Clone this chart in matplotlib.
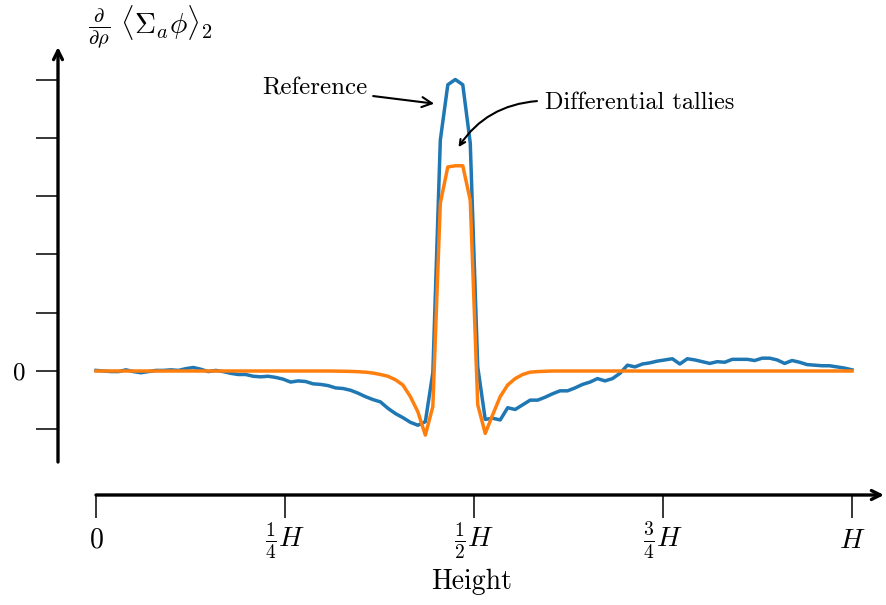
import numpy as np
import matplotlib
matplotlib.use("Agg")
import matplotlib.pyplot as plt

plt.rcParams['font.family'] = 'serif'
plt.rcParams['font.serif'] = ['cmr10']
plt.rcParams['mathtext.fontset'] = 'cm'
plt.rcParams['axes.formatter.use_mathtext'] = True

# 102 points along the height, 0 .. H
height = np.linspace(0, 1, 102)

reference = [
    0.01, 0.00, -0.01, -0.01, 0.02, -0.01, -0.03, -0.01, 0.01, 0.01,
    0.02, 0.01, 0.04, 0.06, 0.03, -0.01, 0.01, -0.01, -0.04, -0.06,
    -0.06, -0.09, -0.10, -0.09, -0.11, -0.14, -0.19, -0.17, -0.18, -0.22,
    -0.23, -0.25, -0.29, -0.30, -0.33, -0.38, -0.44, -0.49, -0.53, -0.64,
    -0.73, -0.80, -0.88, -0.93, -0.87, -0.03, 3.96, 4.91, 5.00, 4.91,
    3.91, 0.07, -0.83, -0.81, -0.84, -0.63, -0.66, -0.58, -0.50, -0.50,
    -0.45, -0.39, -0.34, -0.34, -0.29, -0.23, -0.19, -0.13, -0.17, -0.13,
    -0.04, 0.10, 0.07, 0.12, 0.14, 0.17, 0.19, 0.21, 0.12, 0.21,
    0.19, 0.16, 0.13, 0.16, 0.15, 0.20, 0.20, 0.20, 0.18, 0.22,
    0.22, 0.19, 0.13, 0.18, 0.15, 0.11, 0.10, 0.09, 0.09, 0.07,
    0.05, 0.02,
]

differential = [
    0.0, 0.0, 0.0, 0.0, 0.0, 0.0, 0.0, 0.0, 0.0, 0.0,
    0.0, 0.0, 0.0, 0.0, 0.0, 0.0, 0.0, 0.0, 0.0, 0.0,
    0.0, 0.0, 0.0, 0.0, 0.0, 0.0, 0.0, 0.0, 0.0, 0.0,
    0.0, 0.0, -0.002, -0.004, -0.007, -0.012, -0.02, -0.035, -0.06, -0.09,
    -0.15, -0.24, -0.44, -0.70, -1.10, -0.61, 2.88, 3.50, 3.52, 3.52,
    2.93, -0.58, -1.07, -0.75, -0.44, -0.24, -0.13, -0.06, -0.02, -0.01,
    -0.005, 0.0, 0.0, 0.0, 0.0, 0.0, 0.0, 0.0, 0.0, 0.0,
    0.0, 0.0, 0.0, 0.0, 0.0, 0.0, 0.0, 0.0, 0.0, 0.0,
    0.0, 0.0, 0.0, 0.0, 0.0, 0.0, 0.0, 0.0, 0.0, 0.0,
    0.0, 0.0, 0.0, 0.0, 0.0, 0.0, 0.0, 0.0, 0.0, 0.0,
    0.0, 0.0,
]

xticks = [0, 0.25, 0.5, 0.75, 1]
xticklabels = ['$0$', r'$\frac{1}{4}H$', r'$\frac{1}{2}H$', r'$\frac{3}{4}H$', '$H$']
yticks = [-1, 0, 1, 2, 3, 4, 5]
yticklabels = ['', '0', '', '', '', '', '']

fig = plt.figure(figsize=(8.86, 6.05), dpi=100)
ax = fig.add_axes([58/886, 1 - 495/605, (884 - 58)/886, (495 - 47)/605])

ax.plot(height, reference, color='#1f77b4', lw=2.5)
ax.plot(height, differential, color='#ff7f0e', lw=2.5)

ax.set_xlim(-38/756, 788/756)
ax.set_ylim(-124/58.3, 324/58.3)

for s in ax.spines.values():
    s.set_visible(False)

# axis lines with open arrow heads
arrow = dict(arrowstyle='->', lw=2.4, color='k', shrinkA=0, shrinkB=0,
             mutation_scale=16)
ax.annotate('', xy=(788/756, 0), xytext=(0, 0),
            xycoords=('data', 'axes fraction'), textcoords=('data', 'axes fraction'),
            arrowprops=arrow, annotation_clip=False)
ax.annotate('', xy=(0, 1), xytext=(0, 33/448), xycoords='axes fraction',
            arrowprops=arrow, annotation_clip=False)

ax.set_xticks(xticks)
ax.set_xticklabels(xticklabels, fontsize=20, va='baseline')
ax.set_yticks(yticks)
ax.set_yticklabels(yticklabels, fontsize=18)
ax.tick_params(axis='x', direction='out', length=16.5, width=1.1, pad=21.5)
ax.tick_params(axis='y', direction='out', length=15.5, width=1.1, pad=8)

ax.set_xlabel('Height', fontsize=20)
ax.xaxis.set_label_coords((472 - 58)/826, -74/448)

fig.text(88/886, 1 - 27/605, r'$\frac{\partial}{\partial\rho}\ \langle\Sigma_a\phi\rangle_2$',
         fontsize=21, va='center', ha='left')

ax.annotate('Reference', xy=(0.451, 4.58), xytext=(0.2897, 4.84),
            fontsize=18, ha='center', va='center',
            arrowprops=dict(arrowstyle='->', lw=1.5, color='k'))

# curved arrow from the left end of the label down into the peak
ax.text(0.7196, 4.60, 'Differential tallies', fontsize=17.5, ha='center', va='center')
ax.annotate('', xy=(0.4775, 3.80), xytext=(0.5833, 4.63),
            arrowprops=dict(arrowstyle='->', lw=1.5, color='k', shrinkA=0,
                            connectionstyle='arc3,rad=0.25'))

fig.savefig('out.png', dpi=100)
